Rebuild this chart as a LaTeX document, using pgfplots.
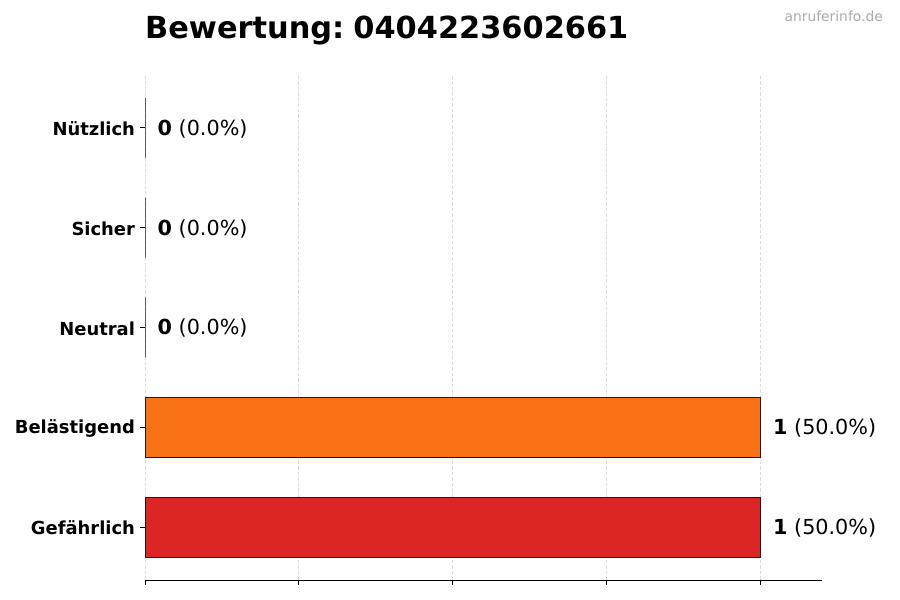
\documentclass[border=0pt]{standalone}
\usepackage{fontspec}
\setmainfont{DejaVu Sans}
\usepackage{pgfplots}
\pgfplotsset{compat=1.18}
\definecolor{barred}{HTML}{DC2626}
\definecolor{barorange}{HTML}{F97316}
\definecolor{gridc}{HTML}{DADADA}
\definecolor{wm}{HTML}{AAAAAA}
\begin{document}
\begin{tikzpicture}
\useasboundingbox (0,0) rectangle (900bp,600bp);
\begin{axis}[
  at={(145bp,20bp)}, anchor=south west,
  scale only axis, width=677bp, height=505bp,
  xmin=0, xmax=1.1, ymin=-0.53, ymax=4.53,
  xbar, bar width=60bp,
  axis x line*=bottom, axis y line*=left,
  y axis line style={draw=none},
  x axis line style={line width=0.8bp, -},
  xtick={0,0.25,0.5,0.75,1}, xticklabels={},
  ytick={0,1,2,3,4},
  yticklabels={Gefährlich,Belästigend,Neutral,Sicher,Nützlich},
  yticklabel style={font=\bfseries\fontsize{18}{20}\selectfont, xshift=-1.5bp, yshift=-1bp},
  tick align=outside, major tick length=5bp,
  tick style={line width=0.8bp, black},
  xmajorgrids=true, ymajorgrids=false,
  major grid style={dash pattern=on 3.5bp off 2bp, gridc, line width=0.8bp},
  point meta=explicit symbolic,
  nodes near coords,
  nodes near coords align={horizontal},
  every node near coord/.append style={anchor=west, xshift=9bp, yshift=-1bp, font=\fontsize{20.8}{24}\selectfont, black},
  clip=false,
]
\addplot[fill=barred, draw=black!90, line width=0.8bp, bar shift=0pt]
  coordinates {(1,0) [{\textbf{1} (50.0\%)}]};
\addplot[fill=barorange, draw=black!90, line width=0.8bp, bar shift=0pt]
  coordinates {(1,1) [{\textbf{1} (50.0\%)}]};
\addplot[fill=gray, draw=black!90, line width=0.8bp, bar shift=0pt]
  coordinates {(0,2) [{\textbf{0} (0.0\%)}] (0,3) [{\textbf{0} (0.0\%)}] (0,4) [{\textbf{0} (0.0\%)}]};
\end{axis}
\node[anchor=base west, font=\bfseries\fontsize{30.5}{34}\selectfont, inner sep=0pt] at (145bp,561bp) {Bewertung:\hspace{0.3em}0404223602661};
\node[anchor=base east, font=\fontsize{13.9}{16}\selectfont, text=wm, inner sep=0pt] at (883bp,578bp) {anruferinfo.de};
\end{tikzpicture}
\end{document}
